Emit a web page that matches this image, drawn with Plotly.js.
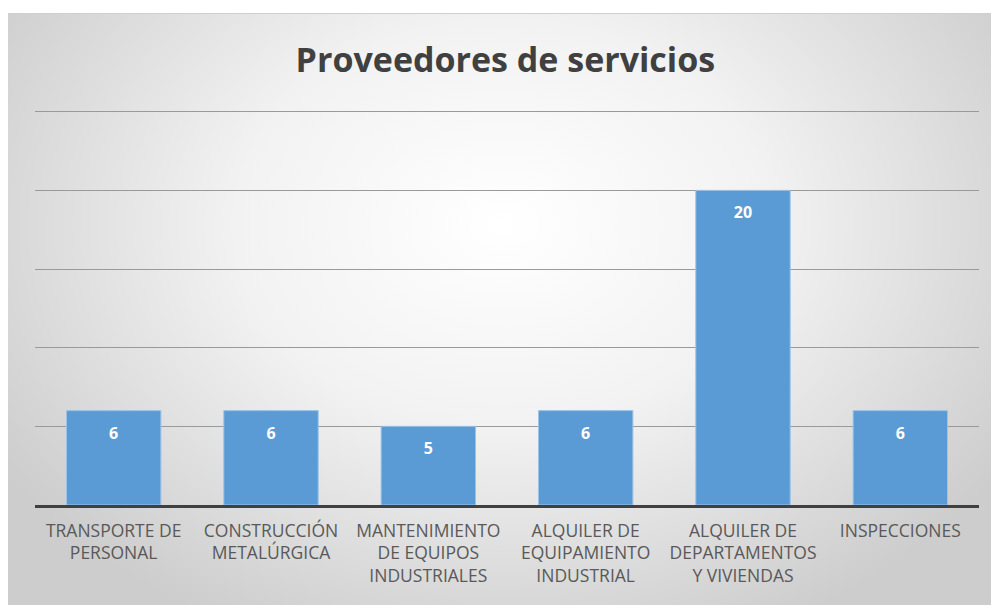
<!DOCTYPE html>
<html>
<head>
<meta charset="utf-8">
<script src="https://cdn.plot.ly/plotly-3.0.1.min.js"></script>
<style>
html,body{margin:0;padding:0;background:#ffffff;}
#bg{position:absolute;left:8px;top:13px;width:990px;height:600px;
  background:radial-gradient(ellipse 60% 75% at 50% 35%, #ffffff 0%, #f2f2f2 45%, #cdcdcd 100%);
  border-top:1px solid #cfcfcf;}
#chart{position:absolute;left:0;top:0;width:991px;height:605px;}
</style>
</head>
<body>
<div id="bg"></div>
<div id="chart"></div>
<script>
const categories = [
  "TRANSPORTE DE<br>PERSONAL",
  "CONSTRUCCIÓN<br>METALÚRGICA",
  "MANTENIMIENTO<br>DE EQUIPOS<br>INDUSTRIALES",
  "ALQUILER DE<br>EQUIPAMIENTO<br>INDUSTRIAL",
  "ALQUILER DE<br>DEPARTAMENTOS<br>Y VIVIENDAS",
  "INSPECCIONES"
];
const values = [6, 6, 5, 6, 20, 6];
const chartTitle = "Proveedores de servicios";

const bars = {
  type: 'bar',
  x: categories,
  y: values,
  marker: {color: '#5b9bd5', line: {color: '#9cc3e8', width: 1}},
  hoverinfo: 'none'
};

const labels = {
  type: 'scatter',
  mode: 'markers+text',
  x: categories,
  y: values,
  text: values.map(String),
  textposition: 'bottom center',
  textfont: {family: 'Open Sans, sans-serif', size: 16, color: '#ffffff', weight: 'bold'},
  marker: {size: 24, opacity: 0},
  hoverinfo: 'none',
  cliponaxis: false
};

const layout = {
  width: 991, height: 605,
  paper_bgcolor: 'rgba(0,0,0,0)',
  plot_bgcolor: 'rgba(0,0,0,0)',
  margin: {l: 35, r: 12, t: 107, b: 100},
  bargap: 0.4,
  showlegend: false,
  title: {
    text: '<b>' + chartTitle + '</b>',
    font: {family: 'Open Sans, sans-serif', size: 34, color: '#404040'},
    x: 0.51, xanchor: 'center', y: 0.9, yanchor: 'middle'
  },
  xaxis: {
    type: 'category',
    showline: true, linecolor: '#404040', linewidth: 2.5,
    ticks: '', showgrid: false,
    ticklabelstandoff: 8,
    tickfont: {family: 'Open Sans, sans-serif', size: 17.5, color: '#595959'},
    fixedrange: true
  },
  yaxis: {
    range: [0, 25.3], tickvals: [5, 10, 15, 20, 25],
    showticklabels: false, ticks: '',
    showgrid: true, gridcolor: '#9a9a9a', gridwidth: 1,
    zeroline: false, showline: false,
    fixedrange: true
  }
};

Plotly.newPlot('chart', [bars, labels], layout, {displayModeBar: false, staticPlot: true});
</script>
</body>
</html>
